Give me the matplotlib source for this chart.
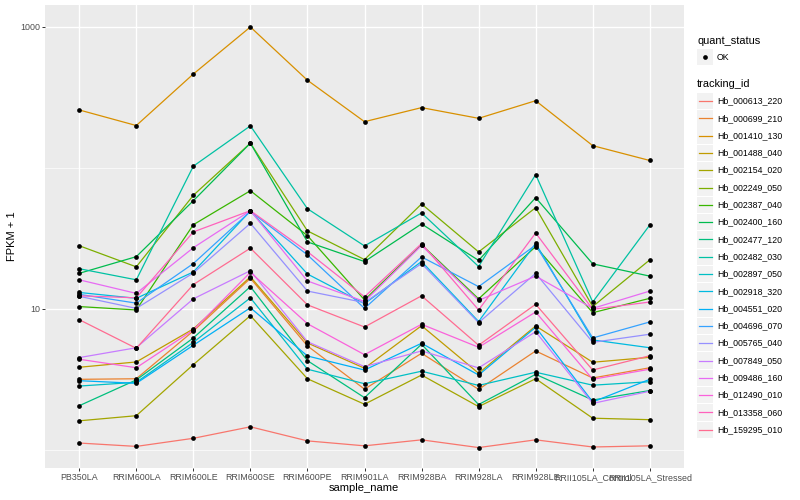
import matplotlib
matplotlib.use('Agg')
import matplotlib.pyplot as plt
from matplotlib.lines import Line2D
from matplotlib.patches import Rectangle
from matplotlib.ticker import FixedLocator, NullFormatter

plt.rcParams['font.family'] = ['Liberation Sans', 'DejaVu Sans']

samples = ['PB350LA', 'RRIM600LA', 'RRIM600LE', 'RRIM600SE', 'RRIM600PE',
           'RRIM901LA', 'RRIM928BA', 'RRIM928LA', 'RRIM928LE',
           'RRII105LA_Control', 'RRII105LA_Stressed']

tracking_ids = ['Hb_000613_220', 'Hb_000699_210', 'Hb_001410_130', 'Hb_001488_040',
                'Hb_002154_020', 'Hb_002249_050', 'Hb_002387_040', 'Hb_002400_160',
                'Hb_002477_120', 'Hb_002482_030', 'Hb_002897_050', 'Hb_002918_320',
                'Hb_004551_020', 'Hb_004696_070', 'Hb_005765_040', 'Hb_007849_050',
                'Hb_009486_160', 'Hb_012490_010', 'Hb_013358_060', 'Hb_159295_010']

# FPKM + 1 values per tracking id, in sample order
hb_000613_220 = [1.12, 1.06, 1.21, 1.46, 1.16, 1.07, 1.18, 1.04, 1.18, 1.05, 1.07]
hb_000699_210 = [3.17, 3.20, 6.98, 16.5, 5.47, 2.70, 4.85, 2.69, 5.04, 3.24, 3.83]
hb_001410_130 = [258, 200, 464, 1000, 419, 213, 268, 225, 300, 144, 113]
hb_001488_040 = [3.86, 4.21, 7.22, 16.9, 5.74, 3.80, 7.61, 3.50, 7.58, 4.19, 4.54]
hb_002154_020 = [1.61, 1.75, 4.03, 8.97, 3.20, 2.11, 3.40, 2.03, 3.20, 1.68, 1.64]
hb_002249_050 = [28.1, 19.9, 64.0, 150, 35.8, 22.4, 55.6, 25.4, 52.3, 10.4, 22.3]
hb_002387_040 = [10.4, 9.84, 39.6, 69.0, 33.1, 11.6, 28.6, 11.8, 27.7, 9.41, 11.9]
hb_002400_160 = [17.9, 23.5, 58.6, 150, 29.9, 21.7, 40.1, 22.1, 61.6, 20.9, 17.1]
hb_002477_120 = [2.06, 3.14, 6.23, 14.4, 4.30, 2.35, 5.62, 2.10, 3.44, 2.26, 2.64]
hb_002482_030 = [19.3, 16.1, 103, 199, 51.4, 28.0, 48.0, 20.0, 89.7, 11.2, 39.4]
hb_002897_050 = [2.84, 3.02, 5.80, 12.0, 3.74, 2.95, 3.62, 2.87, 3.56, 2.88, 3.05]
hb_002918_320 = [13.1, 11.9, 18.3, 49.6, 17.7, 10.9, 21.7, 8.15, 29.2, 6.03, 5.31]
hb_004551_020 = [3.10, 2.97, 5.53, 10.2, 4.64, 3.69, 5.71, 3.40, 7.42, 2.19, 3.17]
hb_004696_070 = [12.7, 11.0, 21.0, 49.2, 24.2, 10.1, 23.4, 14.4, 28.4, 6.23, 8.09]
hb_005765_040 = [12.3, 10.1, 18.0, 40.5, 13.4, 11.1, 21.0, 8.00, 17.9, 5.80, 6.62]
hb_007849_050 = [4.52, 5.31, 11.8, 18.7, 5.86, 3.90, 5.04, 3.82, 6.90, 2.14, 2.61]
hb_009486_160 = [16.1, 12.9, 27.2, 49.8, 15.8, 11.3, 28.2, 11.5, 17.1, 10.1, 13.4]
hb_012490_010 = [4.40, 3.83, 7.10, 18.2, 7.86, 4.74, 7.79, 5.35, 9.52, 3.17, 3.74]
hb_013358_060 = [12.4, 12.0, 35.2, 49.8, 25.5, 12.2, 29.1, 9.84, 34.6, 9.95, 11.2]
hb_159295_010 = [8.40, 5.26, 14.9, 27.0, 10.7, 7.45, 12.4, 5.53, 10.8, 3.69, 4.66]

series = [hb_000613_220, hb_000699_210, hb_001410_130, hb_001488_040, hb_002154_020,
          hb_002249_050, hb_002387_040, hb_002400_160, hb_002477_120, hb_002482_030,
          hb_002897_050, hb_002918_320, hb_004551_020, hb_004696_070, hb_005765_040,
          hb_007849_050, hb_009486_160, hb_012490_010, hb_013358_060, hb_159295_010]

palette = ["#F8766D", "#EA8331", "#D89000", "#C09B00", "#A3A500", "#7CAE00",
           "#39B600", "#00BB4E", "#00BF7D", "#00C1A3", "#00BFC4", "#00BAE0",
           "#00B0F6", "#35A2FF", "#9590FF", "#C77CFF", "#E76BF3", "#FA62DB",
           "#FF62BC", "#FF6C91"]

W, H = 800, 500
fig = plt.figure(figsize=(8, 5), dpi=100)
fig.patch.set_facecolor('white')

pl, pr, pt, pb = 45, 684, 5, 468
ax = fig.add_axes([pl / W, 1 - pb / H, (pr - pl) / W, (pb - pt) / H])
ax.set_facecolor('#EBEBEB')
for s in ax.spines.values():
    s.set_visible(False)

ax.set_yscale('log')
ax.set_ylim(0.745, 1432)
ax.set_xlim(-0.6, 10.6)

ax.yaxis.set_major_locator(FixedLocator([10, 1000]))
ax.yaxis.set_minor_locator(FixedLocator([1, 100]))
ax.yaxis.set_minor_formatter(NullFormatter())
ax.set_yticklabels(['10', '1000'])
ax.set_xticks(range(len(samples)))
ax.set_xticklabels(samples)

ax.grid(True, which='major', axis='both', color='white', lw=1.0)
ax.grid(True, which='minor', axis='y', color='white', lw=0.5)
ax.set_axisbelow(True)
ax.tick_params(which='major', length=2.0, width=0.7, color='#333333',
               labelsize=6.4, labelcolor='#4D4D4D', pad=1.6)
ax.tick_params(which='minor', length=0)

xs = list(range(len(samples)))
for vals, col in zip(series, palette):
    ax.plot(xs, vals, color=col, lw=0.9, zorder=2, solid_capstyle='butt')
for vals in series:
    ax.plot(xs, vals, 'o', color='black', ms=3.4, zorder=3, mec='black', mew=0)

fig.text(364 / W, 1 - 488 / H, 'sample_name', ha='center', va='center', fontsize=8)
fig.text(12 / W, 1 - 236 / H, 'FPKM + 1', ha='center', va='center', fontsize=8, rotation=90)

# legends
def fx(x):
    return x / W

def fy(y):
    return 1 - y / H

fig.text(fx(697), fy(40.5), 'quant_status', ha='left', va='center', fontsize=7.9)
fig.add_artist(Rectangle((fx(697), fy(65)), 16 / W, 16 / H, transform=fig.transFigure,
                         facecolor='#F2F2F2', edgecolor='none'))
fig.add_artist(Line2D([fx(705)], [fy(57)], marker='o', color='black', ms=3.4, mew=0,
                      transform=fig.transFigure))
fig.text(fx(717), fy(57), 'OK', ha='left', va='center', fontsize=6.3)

fig.text(fx(697), fy(84), 'tracking_id', ha='left', va='center', fontsize=7.9)
y0, dy = 101, 17.3
for i, (tid, col) in enumerate(zip(tracking_ids, palette)):
    yc = y0 + i * dy
    fig.add_artist(Rectangle((fx(697), fy(yc + 8.2)), 16 / W, 16.4 / H,
                             transform=fig.transFigure, facecolor='#F2F2F2',
                             edgecolor='none'))
    fig.add_artist(Line2D([fx(698.5), fx(711.5)], [fy(yc), fy(yc)], color=col, lw=0.9,
                          transform=fig.transFigure))
    fig.text(fx(717), fy(yc), tid, ha='left', va='center', fontsize=6.3)

fig.savefig('out.png', dpi=100)
